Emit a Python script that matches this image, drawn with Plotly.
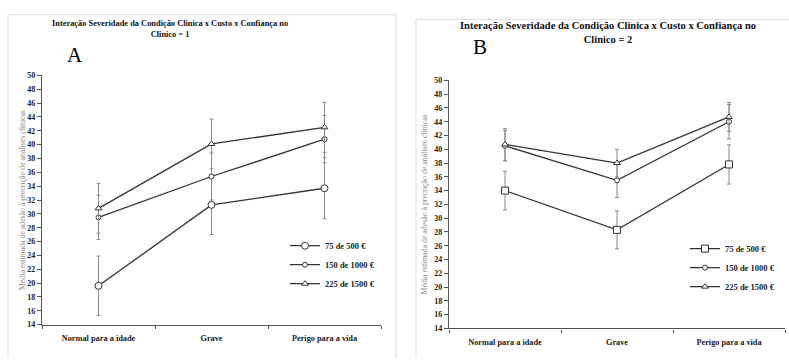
import plotly.graph_objects as go

W, H = 789, 363

categories = ["Normal para a idade", "Grave", "Perigo para a vida"]
series_names = ["75 de 500 €", "150 de 1000 €", "225 de 1500 €"]

# Panel A (Confiança no Clínico = 1)
a_75 = [19.6, 31.3, 33.7]
a_75_err = [4.3, 4.3, 4.4]
a_150 = [29.5, 35.4, 40.8]
a_150_err = [3.2, 3.4, 3.4]
a_225 = [30.8, 40.1, 42.5]
a_225_err = [3.6, 3.6, 3.6]

# Panel B (Confiança no Clínico = 2)
b_75 = [34.0, 28.3, 37.8]
b_75_err = [2.8, 2.75, 2.85]
b_150 = [40.5, 35.5, 44.0]
b_150_err = [2.2, 2.5, 2.5]
b_225 = [40.7, 38.0, 44.7]
b_225_err = [2.3, 2.0, 2.1]

yticks = list(range(14, 51, 2))

title_a = "Interação Severidade da Condição Clinica x Custo x Confiança no<br>Clinico = 1"
title_b = "Interação Severidade da Condição Clinica x Custo x Confiança no<br>Clinico = 2"
ytitle = "Média estimada de adesão à precrição de análises clínicas"

SERIF = "Liberation Serif, Times New Roman, serif"
LINE = "#333333"
ERR = "#8a8a8a"


def px_x(v):
    return v / W


def px_y(v):
    return 1 - v / H


fig = go.Figure()


def add_series(xa, ya, yv, err, name, symbol, size, legend):
    fig.add_trace(go.Scatter(
        x=categories, y=yv, name=name, xaxis=xa, yaxis=ya,
        mode="lines+markers",
        line=dict(color=LINE, width=1.3),
        marker=dict(symbol=symbol, size=size, color="white",
                    line=dict(color=LINE, width=1)),
        error_y=dict(type="data", array=err, visible=True, color=ERR,
                     thickness=1, width=2),
        legend=legend, showlegend=True,
    ))


# Panel A
add_series("x", "y", a_75, a_75_err, series_names[0], "circle", 7, "legend")
add_series("x", "y", a_150, a_150_err, series_names[1], "circle", 5, "legend")
add_series("x", "y", a_225, a_225_err, series_names[2], "triangle-up", 6, "legend")
# Panel B
add_series("x2", "y2", b_75, b_75_err, series_names[0], "square", 7, "legend2")
add_series("x2", "y2", b_150, b_150_err, series_names[1], "circle", 5, "legend2")
add_series("x2", "y2", b_225, b_225_err, series_names[2], "triangle-up", 6, "legend2")

xaxis_common = dict(
    type="category", range=[-0.5, 2.5], tickson="boundaries",
    ticks="outside", ticklen=3, tickcolor="#555", showline=True,
    linecolor="#555", linewidth=1.2, showgrid=False, zeroline=False,
    tickfont=dict(family=SERIF, size=8.3, color="#222", weight="bold"),
    ticklabelstandoff=5,
    fixedrange=True,
)


def yaxis_common(standoff):
    return dict(
        range=[14, 50], tickvals=yticks, ticks="outside", ticklen=4,
        tickcolor="#555", showline=True, linecolor="#555", linewidth=1.2,
        showgrid=False, zeroline=False,
        tickfont=dict(family=SERIF, size=8, color="#222", weight="bold"),
        title=dict(text=ytitle, font=dict(family=SERIF, size=7.8, color="#8a8a8a"),
                   standoff=standoff),
        fixedrange=True,
    )


legend_font = dict(family=SERIF, size=8.5, color="#222", weight="bold")

fig.update_layout(
    width=W, height=H, margin=dict(l=0, r=0, t=0, b=0),
    paper_bgcolor="white", plot_bgcolor="white",
    xaxis=dict(domain=[px_x(42), px_x(381)], anchor="y", **xaxis_common),
    yaxis=dict(domain=[px_y(328.7), px_y(73.3)], anchor="x", **yaxis_common(0)),
    xaxis2=dict(domain=[px_x(449), px_x(785)], anchor="y2", **xaxis_common),
    yaxis2=dict(domain=[px_y(332.7), px_y(78.3)], anchor="x2", **yaxis_common(5)),
    legend=dict(x=px_x(285), y=px_y(233), xanchor="left", yanchor="top",
                bgcolor="rgba(0,0,0,0)", tracegroupgap=0, itemwidth=30,
                font=legend_font),
    legend2=dict(x=px_x(685), y=px_y(236), xanchor="left", yanchor="top",
                 bgcolor="rgba(0,0,0,0)", tracegroupgap=0, itemwidth=30,
                 font=legend_font),
    showlegend=True,
)

# Titles and panel letters
fig.add_annotation(text=title_a, x=px_x(170), y=px_y(26), xref="paper", yref="paper",
                   xanchor="center", yanchor="middle",
                   showarrow=False, font=dict(family=SERIF, size=8.4, color="#111", weight="bold"),
                   align="center")
fig.add_annotation(text=title_b, x=px_x(608), y=px_y(29), xref="paper", yref="paper",
                   xanchor="center", yanchor="middle",
                   showarrow=False, font=dict(family=SERIF, size=10.5, color="#111", weight="bold"),
                   align="center")
fig.add_annotation(text="A", x=px_x(75), y=px_y(52), xref="paper", yref="paper",
                   xanchor="center", yanchor="middle",
                   showarrow=False, font=dict(family=SERIF, size=21, color="#000"))
fig.add_annotation(text="B", x=px_x(480), y=px_y(44), xref="paper", yref="paper",
                   xanchor="center", yanchor="middle",
                   showarrow=False, font=dict(family=SERIF, size=21, color="#000"))

# Panel frames (light gray)
frame = dict(color="#dddddd", width=1)
fig.add_shape(type="line", xref="paper", yref="paper", x0=px_x(8), x1=px_x(396), y0=px_y(11), y1=px_y(11), line=frame)
fig.add_shape(type="line", xref="paper", yref="paper", x0=px_x(8), x1=px_x(8), y0=px_y(11), y1=0, line=frame)
fig.add_shape(type="line", xref="paper", yref="paper", x0=px_x(396), x1=px_x(396), y0=px_y(11), y1=0, line=frame)
fig.add_shape(type="line", xref="paper", yref="paper", x0=px_x(416), x1=1, y0=px_y(16), y1=px_y(16), line=frame)
fig.add_shape(type="line", xref="paper", yref="paper", x0=px_x(416), x1=px_x(416), y0=px_y(16), y1=0, line=frame)

fig.write_html("out.html")
